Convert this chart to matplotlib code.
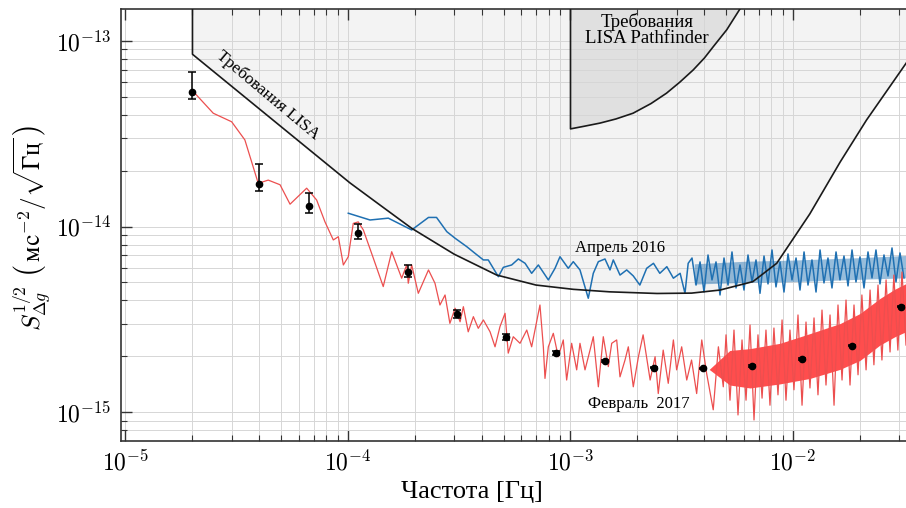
import numpy as np
import matplotlib
matplotlib.use('Agg')
import matplotlib.pyplot as plt
from matplotlib.ticker import FuncFormatter, NullFormatter, LogLocator

plt.rcParams['font.family'] = ['Liberation Serif', 'DejaVu Serif']
plt.rcParams['mathtext.fontset'] = 'cm'

# кривая требований LISA (вертикальная граница при 2e-5 Гц + кривая)
lisa_f = [2.0e-5, 2.0e-5, 4.0e-5, 1.02e-4, 1.40e-4, 1.93e-4, 3.0e-4, 4.66e-4, 7.0e-4, 1.03e-3,
          1.5e-3, 2.45e-3, 3.5e-3, 4.7e-3, 6.6e-3, 8.45e-3, 1.19e-2, 1.63e-2, 2.14e-2, 3.3e-2]
lisa_s = [3.0e-13, 8.48e-14, 4.30e-14, 1.72e-14, 1.30e-14, 9.8e-15, 7.1e-15, 5.48e-15, 4.84e-15, 4.59e-15,
          4.45e-15, 4.36e-15, 4.38e-15, 4.55e-15, 5.05e-15, 6.34e-15, 1.17e-14, 2.23e-14, 3.75e-14, 7.9e-14]

# требования LISA Pathfinder
lpf_f = [1.0e-3, 1.0e-3, 1.15e-3, 1.357e-3, 1.6e-3, 1.91e-3, 2.3e-3, 2.70e-3, 3.1e-3, 3.56e-3,
         4.0e-3, 4.38e-3, 5.04e-3, 5.78e-3, 6.3e-3]
lpf_s = [3.0e-13, 3.36e-14, 3.47e-14, 3.61e-14, 3.80e-14, 4.08e-14, 4.60e-14, 5.23e-14, 6.0e-14, 6.98e-14,
         8.1e-14, 9.31e-14, 1.15e-13, 1.49e-13, 1.75e-13]

# февраль 2017, низкие частоты
feb_f = [2.02e-5, 2.48e-5, 3.00e-5, 3.44e-5, 3.95e-5, 4.38e-5, 4.95e-5, 5.49e-5, 6.52e-5, 7.23e-5,
         7.88e-5, 8.59e-5, 9.05e-5, 9.53e-5, 1.003e-4, 1.056e-4, 1.112e-4, 1.172e-4, 1.30e-4, 1.44e-4,
         1.572e-4, 1.655e-4, 1.743e-4, 1.836e-4, 1.866e-4, 1.933e-4, 2.07e-4, 2.30e-4, 2.46e-4, 2.59e-4,
         2.73e-4, 2.87e-4, 3.03e-4, 3.19e-4, 3.30e-4, 3.47e-4, 3.66e-4, 3.85e-4, 4.06e-4, 4.35e-4,
         4.58e-4, 4.82e-4, 5.08e-4, 5.25e-4, 5.53e-4, 5.93e-4, 6.36e-4, 6.69e-4, 7.29e-4, 7.55e-4,
         7.68e-4, 7.95e-4, 8.37e-4, 8.81e-4, 9.28e-4, 9.61e-4, 1.012e-3, 1.066e-3, 1.103e-3, 1.162e-3,
         1.224e-3, 1.266e-3, 1.334e-3, 1.404e-3, 1.479e-3, 1.532e-3, 1.613e-3, 1.669e-3, 1.758e-3, 1.819e-3,
         1.915e-3, 2.02e-3, 2.12e-3, 2.28e-3, 2.40e-3, 2.48e-3, 2.61e-3, 2.75e-3, 2.90e-3, 3.00e-3,
         3.16e-3, 3.33e-3, 3.50e-3, 3.69e-3, 3.89e-3, 4.09e-3, 4.38e-3, 4.62e-3, 4.86e-3]
feb_s = [5.33e-14, 4.08e-14, 3.67e-14, 2.93e-14, 1.71e-14, 1.78e-14, 1.68e-14, 1.32e-14, 1.61e-14, 1.39e-14,
         1.06e-14, 8.47e-15, 8.82e-15, 6.21e-15, 6.88e-15, 1.04e-14, 1.06e-14, 9.59e-15, 6.75e-15, 4.75e-15,
         7.32e-15, 6.21e-15, 5.27e-15, 6.21e-15, 4.95e-15, 6.21e-15, 4.37e-15, 5.84e-15, 4.95e-15, 3.78e-15,
         4.28e-15, 3.01e-15, 3.63e-15, 3.07e-15, 3.70e-15, 2.71e-15, 3.27e-15, 2.83e-15, 3.14e-15, 2.71e-15,
         2.25e-15, 2.89e-15, 3.41e-15, 2.08e-15, 2.55e-15, 2.35e-15, 2.77e-15, 2.25e-15, 3.78e-15, 2.25e-15,
         1.52e-15, 2.25e-15, 2.66e-15, 1.99e-15, 2.45e-15, 1.49e-15, 2.35e-15, 1.69e-15, 2.35e-15, 1.69e-15,
         2.16e-15, 2.55e-15, 1.37e-15, 2.55e-15, 1.76e-15, 2.35e-15, 2.45e-15, 1.55e-15, 1.91e-15, 2.25e-15,
         1.37e-15, 1.99e-15, 2.61e-15, 1.49e-15, 1.99e-15, 1.26e-15, 2.16e-15, 1.43e-15, 2.45e-15, 1.69e-15,
         2.25e-15, 1.49e-15, 1.91e-15, 1.26e-15, 2.45e-15, 1.62e-15, 1.03e-15, 2.25e-15, 1.37e-15]

# февраль 2017, высокие частоты (выбросы)
feb_hf_f = [5.00e-3, 5.21e-3, 5.43e-3, 5.66e-3, 5.90e-3, 6.15e-3, 6.41e-3, 6.68e-3, 6.96e-3, 7.26e-3,
            7.56e-3, 7.88e-3, 8.21e-3, 8.56e-3, 8.93e-3, 9.30e-3, 9.69e-3, 1.010e-2, 1.053e-2, 1.098e-2,
            1.144e-2, 1.192e-2, 1.243e-2, 1.295e-2, 1.350e-2, 1.407e-2, 1.467e-2, 1.529e-2, 1.593e-2, 1.661e-2,
            1.731e-2, 1.804e-2, 1.880e-2, 1.960e-2, 2.04e-2, 2.13e-2, 2.22e-2, 2.31e-2, 2.41e-2, 2.51e-2,
            2.62e-2, 2.73e-2, 2.84e-2, 2.96e-2, 3.09e-2, 3.22e-2]
feb_hf_s = [2.61e-15, 1.16e-15, 2.77e-15, 9.66e-16, 2.45e-15, 1.16e-15, 2.95e-15, 9.08e-16, 2.61e-15, 1.19e-15,
            2.77e-15, 1.09e-15, 2.84e-15, 1.24e-15, 3.14e-15, 1.16e-15, 2.77e-15, 1.32e-15, 3.34e-15, 1.09e-15,
            3.06e-15, 1.35e-15, 3.22e-15, 1.24e-15, 3.55e-15, 1.40e-15, 3.34e-15, 1.09e-15, 3.78e-15, 1.49e-15,
            4.02e-15, 1.40e-15, 3.78e-15, 1.59e-15, 4.28e-15, 1.69e-15, 4.55e-15, 1.80e-15, 4.84e-15, 1.91e-15,
            5.16e-15, 2.11e-15, 5.48e-15, 2.16e-15, 5.69e-15, 2.30e-15]

# плотная полоса шума февраль 2017
band_f = [4.2e-3, 5.2e-3, 6.41e-3, 8.74e-3, 1.192e-2, 1.626e-2, 2.00e-2, 2.46e-2, 2.87e-2, 3.3e-2]
band_hi = [1.7e-15, 2.15e-15, 2.2e-15, 2.35e-15, 2.65e-15, 3.0e-15, 3.4e-15, 4.1e-15, 4.6e-15, 5.0e-15]
band_lo = [1.7e-15, 1.4e-15, 1.35e-15, 1.42e-15, 1.52e-15, 1.7e-15, 1.9e-15, 2.3e-15, 2.55e-15, 2.75e-15]

# апрель 2016
apr_f = [1.003e-4, 1.256e-4, 1.518e-4, 1.933e-4, 2.30e-4, 2.50e-4, 2.78e-4, 3.03e-4, 3.42e-4, 3.72e-4,
         4.06e-4, 4.27e-4, 4.74e-4, 4.99e-4, 5.44e-4, 5.83e-4, 6.25e-4, 6.69e-4, 7.17e-4, 7.95e-4,
         8.52e-4, 8.97e-4, 9.77e-4, 1.029e-3, 1.103e-3, 1.202e-3, 1.266e-3, 1.334e-3, 1.429e-3, 1.505e-3,
         1.557e-3, 1.669e-3, 1.789e-3, 1.915e-3, 2.05e-3, 2.20e-3, 2.36e-3, 2.52e-3, 2.71e-3, 2.90e-3,
         3.11e-3, 3.27e-3, 3.38e-3]
apr_s = [1.18e-14, 1.085e-14, 1.11e-14, 9.59e-15, 1.12e-14, 1.12e-14, 9.39e-15, 8.65e-15, 7.79e-15, 7.18e-15,
         6.61e-15, 6.61e-15, 5.37e-15, 6.03e-15, 6.21e-15, 6.69e-15, 6.34e-15, 5.60e-15, 6.21e-15, 5.16e-15,
         5.96e-15, 6.88e-15, 5.96e-15, 6.47e-15, 5.84e-15, 4.11e-15, 5.60e-15, 6.47e-15, 6.69e-15, 5.84e-15,
         6.61e-15, 5.48e-15, 5.84e-15, 5.42e-15, 4.84e-15, 5.96e-15, 6.34e-15, 5.60e-15, 6.08e-15, 5.27e-15,
         5.60e-15, 4.37e-15, 6.34e-15]
apr_hf_f = [3.517e-3, 3.666e-3, 3.821e-3, 3.982e-3, 4.150e-3, 4.325e-3, 4.508e-3, 4.699e-3, 4.897e-3, 5.104e-3,
            5.319e-3, 5.545e-3, 5.779e-3, 6.023e-3, 6.277e-3, 6.543e-3, 6.819e-3, 7.107e-3, 7.408e-3, 7.721e-3,
            8.047e-3, 8.386e-3, 8.741e-3, 9.110e-3, 9.496e-3, 9.897e-3, 1.032e-2, 1.075e-2, 1.121e-2, 1.168e-2,
            1.217e-2, 1.269e-2, 1.323e-2, 1.378e-2, 1.436e-2, 1.497e-2, 1.561e-2, 1.626e-2, 1.695e-2, 1.767e-2,
            1.842e-2, 1.919e-2, 2.000e-2, 2.085e-2, 2.173e-2, 2.265e-2, 2.360e-2, 2.460e-2, 2.564e-2, 2.673e-2,
            2.786e-2, 2.903e-2, 3.026e-2, 3.154e-2]
apr_hf_s = [6.77e-15, 4.84e-15, 6.45e-15, 4.44e-15, 7.03e-15, 5.16e-15, 6.45e-15, 4.28e-15, 6.77e-15, 4.84e-15,
            7.30e-15, 4.67e-15, 6.21e-15, 4.55e-15, 7.03e-15, 5.03e-15, 6.61e-15, 4.37e-15, 6.94e-15, 4.91e-15,
            7.48e-15, 4.73e-15, 6.45e-15, 4.44e-15, 7.12e-15, 5.16e-15, 6.77e-15, 4.55e-15, 7.30e-15, 4.84e-15,
            6.61e-15, 4.44e-15, 7.48e-15, 4.97e-15, 6.77e-15, 4.67e-15, 7.30e-15, 5.16e-15, 6.94e-15, 4.79e-15,
            7.48e-15, 5.03e-15, 6.86e-15, 4.67e-15, 7.30e-15, 5.29e-15, 7.48e-15, 4.91e-15, 7.03e-15, 5.42e-15,
            7.67e-15, 5.03e-15, 7.21e-15, 5.29e-15]
# плотная часть апрель 2016
apr_band_f = [3.6e-3, 6.0e-3, 1.0e-2, 2.0e-2, 3.3e-2]
apr_band_hi = [6.3e-15, 6.5e-15, 6.6e-15, 6.8e-15, 7.0e-15]
apr_band_lo = [4.9e-15, 5.0e-15, 5.05e-15, 5.2e-15, 5.3e-15]

# усреднённые точки с ошибками
pts_f = [2.0e-5, 4.0e-5, 6.68e-5, 1.11e-4, 1.855e-4, 3.08e-4, 5.13e-4, 8.58e-4, 1.43e-3, 2.38e-3,
         3.95e-3, 6.56e-3, 1.10e-2, 1.84e-2, 3.05e-2]
pts_s = [5.33e-14, 1.70e-14, 1.29e-14, 9.20e-15, 5.71e-15, 3.37e-15, 2.53e-15, 2.09e-15, 1.89e-15, 1.74e-15,
         1.72e-15, 1.78e-15, 1.94e-15, 2.28e-15, 3.70e-15]
pts_hi = [6.83e-14, 2.17e-14, 1.51e-14, 1.03e-14, 6.21e-15, 3.55e-15, 2.64e-15, 2.14e-15, 1.92e-15, 1.76e-15,
          1.74e-15, 1.80e-15, 1.96e-15, 2.30e-15, 3.73e-15]
pts_lo = [4.85e-14, 1.56e-14, 1.19e-14, 8.55e-15, 5.37e-15, 3.21e-15, 2.45e-15, 2.04e-15, 1.86e-15, 1.72e-15,
          1.70e-15, 1.76e-15, 1.92e-15, 2.26e-15, 3.67e-15]

x_ticks = [1e-5, 1e-4, 1e-3, 1e-2]
y_ticks = [1e-15, 1e-14, 1e-13]
x_min, x_max = 9.55e-6, 3.22e-2
y_min, y_max = 7.02e-16, 1.487e-13

fig = plt.figure(figsize=(9.06, 5.08), dpi=100)
ax = fig.add_axes([0.1336, 0.1325, 0.8664, 0.8498])
ax.set_xscale('log')
ax.set_yscale('log')

# заштрихованные области требований
ax.fill(lisa_f + [lisa_f[-1]], lisa_s + [lisa_s[0]], color='#f3f3f3', lw=0, zorder=0.2)
ax.fill(lpf_f + [lpf_f[-1]], lpf_s + [lpf_s[0]], color='#e0e0e0', lw=0, zorder=0.3)
ax.plot(lisa_f, lisa_s, color='#1a1a1a', lw=1.2, zorder=3)
ax.plot(lpf_f, lpf_s, color='#1a1a1a', lw=1.2, zorder=3)

# апрель 2016
ax.fill_between(apr_band_f, apr_band_lo, apr_band_hi, color='#1a6db0', alpha=0.45, lw=0, zorder=1.9)
ax.plot(apr_f + apr_hf_f, apr_s + apr_hf_s, color='#1f70b2', lw=1.1, zorder=2)

# февраль 2017
ax.fill_between(band_f, band_lo, band_hi, color='#ff4d4d', lw=0, zorder=2.1)
ax.plot(feb_f + feb_hf_f, feb_s + feb_hf_s, color='#ec4f4f', lw=0.9, zorder=2.2)

yerr = [np.array(pts_s) - np.array(pts_lo), np.array(pts_hi) - np.array(pts_s)]
ax.errorbar(pts_f, pts_s, yerr=yerr, fmt='o', color='black', ms=4.5, capsize=3, elinewidth=1.1,
            capthick=1.1, zorder=4)

ax.set_xlim(x_min, x_max)
ax.set_ylim(y_min, y_max)

ax.set_xticks(x_ticks)
ax.set_yticks(y_ticks)
ax.xaxis.set_minor_locator(LogLocator(base=10, subs=np.arange(2, 10), numticks=100))
ax.yaxis.set_minor_locator(LogLocator(base=10, subs=np.arange(2, 10), numticks=100))
fmt = FuncFormatter(lambda v, p: r'$10^{%d}$' % int(round(np.log10(v))))
ax.xaxis.set_major_formatter(fmt)
ax.yaxis.set_major_formatter(fmt)
ax.xaxis.set_minor_formatter(NullFormatter())
ax.yaxis.set_minor_formatter(NullFormatter())

ax.set_axisbelow(True)
ax.grid(True, which='both', color='#d6d6d6', lw=0.7)
ax.tick_params(which='both', direction='in', top=True, right=False, color='#333333')
ax.tick_params(which='major', length=8, width=1.0, labelsize=17, pad=7)
ax.tick_params(which='minor', length=4.5, width=0.8)
for side in ['left', 'bottom', 'top']:
    ax.spines[side].set_color('#333333')
    ax.spines[side].set_linewidth(1.2)
ax.spines['right'].set_visible(False)

# подписи
ax.text(4.37e-5, 5.12e-14, 'Требования LISA', rotation=-40, ha='center', va='center',
        rotation_mode='anchor', fontsize=12.5)
ax.text(2.21e-3, 1.27e-13, 'Требования', ha='center', va='center', fontsize=13.5)
ax.text(2.21e-3, 1.03e-13, 'LISA Pathfinder', ha='center', va='center', fontsize=13.5)
ax.text(1.669e-3, 7.67e-15, 'Апрель 2016', ha='center', va='center', fontsize=12)
ax.text(2.03e-3, 1.107e-15, 'Февраль  2017', ha='center', va='center', fontsize=12)

fig.text(0.521, 0.0315, 'Частота [Гц]', ha='center', va='center', fontsize=19)
fig.text(0.036, 0.551, r'$S_{\Delta g}^{1/2}\ \left(\,\mathrm{мс}^{-2}/\sqrt{\mathrm{Гц}}\,\right)$',
         rotation=90, ha='center', va='center', fontsize=18)

fig.savefig('out.png', dpi=100)
